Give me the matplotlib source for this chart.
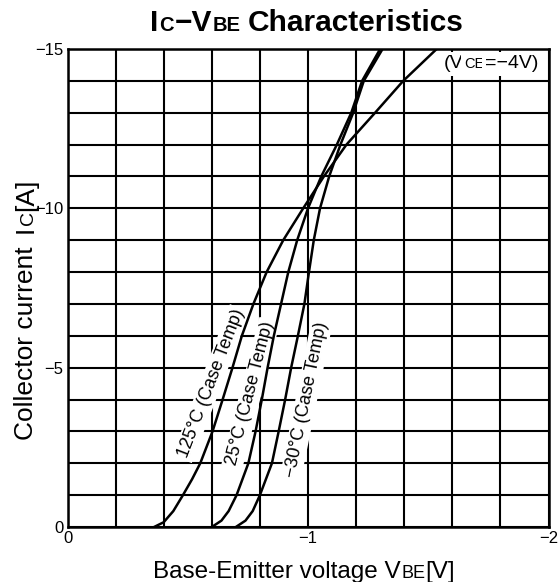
import matplotlib
matplotlib.use("Agg")
import matplotlib.pyplot as plt
from matplotlib.transforms import IdentityTransform

plt.rcParams['font.family'] = ['Liberation Sans', 'DejaVu Sans']

# (V in volts, I in amps)
ic_125 = [0, -0.15, -0.5, -1.0, -1.5, -2.0, -3.0, -4.0, -5.0, -6.0, -7.0, -8.0,
          -9.0, -10.0, -11.0, -12.0, -13.0, -14.0, -15.0]
vbe_125 = [-0.36, -0.40, -0.44, -0.48, -0.518, -0.552, -0.603, -0.645, -0.686, -0.725,
           -0.773, -0.828, -0.897, -0.98, -1.066, -1.16, -1.279, -1.396, -1.535]

ic_25 = [0, -0.2, -0.5, -1.0, -2.0, -3.0, -4.0, -5.0, -6.0, -7.0, -8.0, -9.0,
         -10.0, -11.0, -12.0, -13.0, -14.0, -15.0]
vbe_25 = [-0.60, -0.64, -0.67, -0.703, -0.752, -0.782, -0.808, -0.832, -0.858, -0.888,
          -0.918, -0.955, -1.0, -1.055, -1.12, -1.18, -1.225, -1.30]

ic_m30 = [0, -0.2, -0.5, -1.0, -2.0, -3.0, -4.0, -5.0, -6.0, -7.0, -8.0, -9.0,
          -10.0, -11.0, -12.0, -13.0, -14.0, -15.0]
vbe_m30 = [-0.70, -0.74, -0.77, -0.80, -0.85, -0.878, -0.905, -0.93, -0.958, -0.985,
           -1.004, -1.024, -1.05, -1.088, -1.135, -1.188, -1.232, -1.31]

x_ticks = [0, -1, -2]
x_ticklabels = ["0", "\u22121", "\u22122"]
y_ticks = [0, -5, -10, -15]
y_ticklabels = ["0", "\u22125", "\u221210", "\u221215"]

fig = plt.figure(figsize=(5.58, 5.82), dpi=100)
ax = fig.add_axes([67.5 / 558, 55 / 582, 481 / 558, 478 / 582])

ax.set_xlim(0, -2)
ax.set_ylim(0, -15)
ax.set_xticks(x_ticks)
ax.set_xticklabels(x_ticklabels, fontsize=12)
ax.set_yticks(y_ticks)
ax.set_yticklabels(y_ticklabels, fontsize=12)
ax.set_xticks([-0.2 * i for i in range(11)], minor=True)
ax.set_yticks([-i for i in range(16)], minor=True)
ax.tick_params(which='both', length=0, pad=3)
ax.grid(True, which='both', color='black', linewidth=1.5)
ax.set_axisbelow(True)
for s in ax.spines.values():
    s.set_linewidth(1.8)

for v, i in [(vbe_125, ic_125), (vbe_25, ic_25), (vbe_m30, ic_m30)]:
    ax.plot(v, i, color='black', linewidth=1.8, zorder=5)

box = dict(facecolor='white', edgecolor='none', pad=1.5)
ax.text(-0.596, -4.5, "125\u00b0C (Case Temp)", rotation=69, fontsize=13,
        ha='center', va='center', bbox=box, zorder=3)
ax.text(-0.762, -4.2, "25\u00b0C (Case Temp)", rotation=75.5, fontsize=13,
        ha='center', va='center', bbox=box, zorder=3)
ax.text(-0.993, -4.0, "\u221230\u00b0C (Case Temp)", rotation=78.5, fontsize=13,
        ha='center', va='center', bbox=box, zorder=3)

r = fig.canvas.get_renderer()


def chain(parts, x, y, rotation=0, **kw):
    # parts: (text, size, gap before in px); x, y in pixels, centred
    texts, sizes, gaps = [], [], []
    for s, size, gap in parts:
        t = fig.text(0, 0, s, fontsize=size, rotation=rotation,
                     rotation_mode='anchor', ha='left', va='baseline',
                     transform=IdentityTransform(), **kw)
        bb = t.get_window_extent(r)
        texts.append(t)
        sizes.append(bb.height if rotation == 90 else bb.width)
        gaps.append(gap)
    total = sum(sizes) + sum(gaps)
    pos = -total / 2
    for t, w, g in zip(texts, sizes, gaps):
        pos += g
        if rotation == 90:
            t.set_position((x, y + pos))
        else:
            t.set_position((x + pos, y))
        pos += w
    return texts


H = 582
chain([("I", 21.5, 0), ("C", 14.5, 1), ("\u2212V", 21.5, 1), ("BE", 14.5, 1),
       ("Characteristics", 21.5, 7)], 307, H - 31, fontweight='bold')
chain([("Base-Emitter voltage V", 17.5, 0), ("BE", 13, 1), ("[V]", 17.5, 0)],
      304, H - 578)
chain([("Collector current", 19, 0), ("I", 19, 13), ("C", 14, 1), ("[A]", 19, 0)],
      33, H - 309, rotation=90)
chain([("(V", 14, 0), ("CE", 10.5, 1), ("=\u22124V)", 14, 1)], 491, H - 68,
      bbox=dict(facecolor='white', edgecolor='none', pad=2.5))

fig.savefig("out.png", dpi=100)
